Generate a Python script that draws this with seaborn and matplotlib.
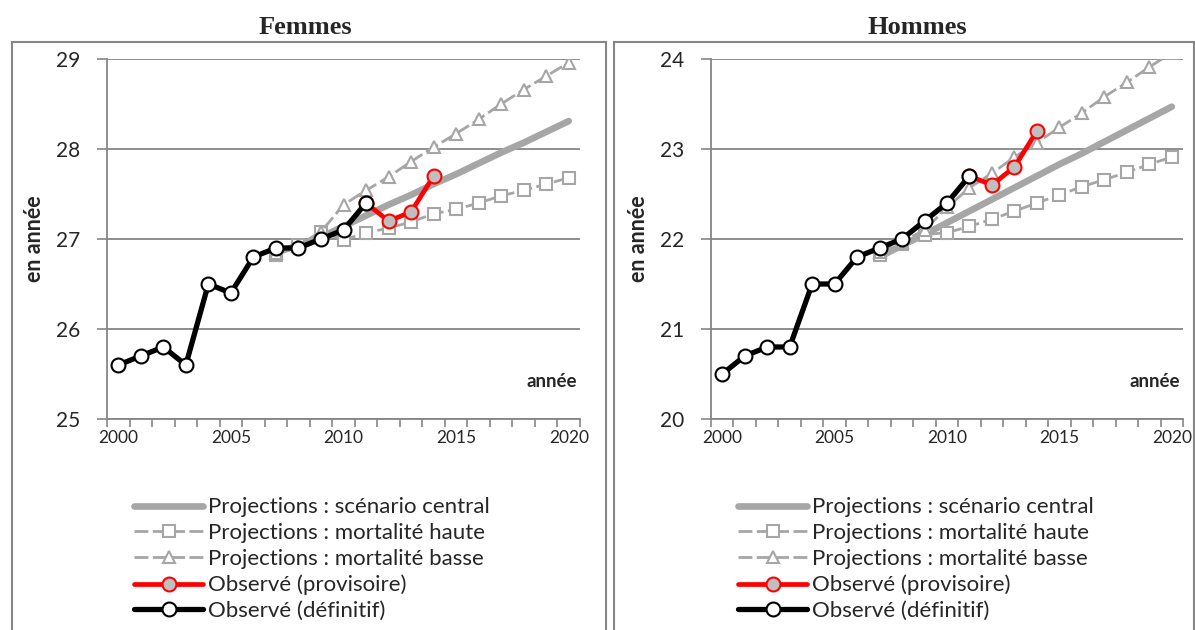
import numpy as np
import pandas as pd
import seaborn as sns
import matplotlib.pyplot as plt
from matplotlib.patches import Rectangle
from matplotlib.ticker import MultipleLocator

# ---- data ----
obs_years = list(range(2000, 2012))
prov_years = [2011, 2012, 2013, 2014]
proj_years = list(range(2007, 2021))

f_obs = [25.6, 25.7, 25.8, 25.6, 26.5, 26.4, 26.8, 26.9, 26.9, 27.0, 27.1, 27.4]
f_prov = [27.4, 27.2, 27.3, 27.7]
f_central = [26.85, 26.93, 27.02, 27.14, 27.26, 27.38, 27.49, 27.61, 27.72, 27.84, 27.96, 28.07, 28.19, 28.31]
f_haute = [26.82, 26.93, 27.08, 26.99, 27.07, 27.12, 27.19, 27.28, 27.33, 27.40, 27.48, 27.54, 27.61, 27.68]
f_basse = [26.85, 26.92, 27.08, 27.38, 27.54, 27.69, 27.86, 28.02, 28.17, 28.33, 28.50, 28.66, 28.81, 28.96]

h_obs = [20.5, 20.7, 20.8, 20.8, 21.5, 21.5, 21.8, 21.9, 22.0, 22.2, 22.4, 22.7]
h_prov = [22.7, 22.6, 22.8, 23.2]
h_central = [21.80, 21.93, 22.05, 22.18, 22.31, 22.44, 22.57, 22.70, 22.83, 22.95, 23.08, 23.21, 23.34, 23.47]
h_haute = [21.82, 21.95, 22.05, 22.07, 22.14, 22.22, 22.31, 22.40, 22.49, 22.58, 22.66, 22.74, 22.83, 22.91]
h_basse = [21.85, 21.97, 22.10, 22.35, 22.57, 22.73, 22.91, 23.07, 23.24, 23.40, 23.58, 23.74, 23.91, 24.07]

labels = ["Projections : scénario central", "Projections : mortalité haute",
          "Projections : mortalité basse", "Observé (provisoire)", "Observé (définitif)"]

sns.set_style("white")
plt.rcParams["font.family"] = ["Lato", "DejaVu Sans"]

GRID = "#868686"
PGREY = "#A6A6A6"

fig = plt.figure(figsize=(11.95, 6.3), dpi=100)
W, H = 1195, 630


def panel(left, right, title, tx, ylim, obs, prov, central, haute, basse):
    ax = fig.add_axes([left / W, 1 - 419 / H, (right - left) / W, 360 / H])
    sns.lineplot(x=proj_years, y=central, ax=ax, color=PGREY, lw=4.8,
                 solid_capstyle="round", label=labels[0], zorder=2)
    sns.lineplot(x=proj_years, y=haute, ax=ax, color=PGREY, lw=2,
                 linestyle=(0, (5, 1.6)), marker="s", markersize=8,
                 markerfacecolor="white", markeredgecolor=PGREY,
                 markeredgewidth=1.5, label=labels[1], zorder=3)
    sns.lineplot(x=proj_years, y=basse, ax=ax, color=PGREY, lw=2,
                 linestyle=(0, (5, 1.6)), marker="^", markersize=9,
                 markerfacecolor="white", markeredgecolor=PGREY,
                 markeredgewidth=1.5, label=labels[2], zorder=3)
    sns.lineplot(x=prov_years, y=prov, ax=ax, color="#FF0000", lw=3.4,
                 marker="o", markersize=10, markerfacecolor="#BFBFBF",
                 markeredgecolor="#FF0000", markeredgewidth=1.5,
                 label=labels[3], zorder=4)
    sns.lineplot(x=obs_years, y=obs, ax=ax, color="black", lw=3.8,
                 marker="o", markersize=10, markerfacecolor="white",
                 markeredgecolor="black", markeredgewidth=1.5,
                 label=labels[4], zorder=5)

    ax.set_xlim(1999.5, 2020.5)
    ax.set_ylim(*ylim)
    ax.set_xticks([2000, 2005, 2010, 2015, 2020])
    ax.xaxis.set_minor_locator(MultipleLocator(1, offset=0.5))
    ax.set_yticks(np.arange(ylim[0], ylim[1] + 1, 1))
    ax.tick_params(axis="x", which="major", length=0, pad=8, labelsize=12.5)
    ax.tick_params(axis="x", which="minor", length=6, width=1.2, color=GRID,
                   direction="out", bottom=True)
    ax.tick_params(axis="y", length=7, width=1.2, color=GRID, direction="out",
                   left=True, pad=12, labelsize=15)
    ax.grid(axis="y", color=GRID, lw=1.3)
    ax.grid(axis="x", visible=False)
    for s in ["top", "right"]:
        ax.spines[s].set_visible(False)
    for s in ["left", "bottom"]:
        ax.spines[s].set_color(GRID)
        ax.spines[s].set_linewidth(1.3)
    ax.set_xlabel("")
    ax.set_ylabel("en année", fontsize=15.5, fontweight="bold")
    ax.yaxis.set_label_coords(-0.131, 0.5)
    ax.text(0.994, 0.103, "année", transform=ax.transAxes, ha="right",
            va="center", fontsize=13.5, fontweight="bold")

    h, l = ax.get_legend_handles_labels()
    ax.legend(h, l, loc="upper left", bbox_to_anchor=(0.058, -0.218),
              frameon=False, fontsize=16, handlelength=3.1, handletextpad=0.22,
              labelspacing=0.26, borderaxespad=0, borderpad=0)

    fig.text(tx / W, 1 - 27 / H, title, ha="center", va="center",
             fontsize=19, fontweight="bold", family="Liberation Serif")
    return ax


panel(107, 580, "Femmes", 305, (25, 29), f_obs, f_prov, f_central, f_haute, f_basse)
panel(711, 1183, "Hommes", 917, (20, 24), h_obs, h_prov, h_central, h_haute, h_basse)

# frames around each chart
fig.add_artist(Rectangle((12 / W, -0.05), (606 - 12) / W, 1 - 42 / H + 0.05,
                         transform=fig.transFigure, fill=False,
                         edgecolor=GRID, lw=1.5))
fig.add_artist(Rectangle((614 / W, -0.05), (1194 - 614) / W, 1 - 42 / H + 0.05,
                         transform=fig.transFigure, fill=False,
                         edgecolor=GRID, lw=1.5))

fig.savefig("out.png", dpi=100)
